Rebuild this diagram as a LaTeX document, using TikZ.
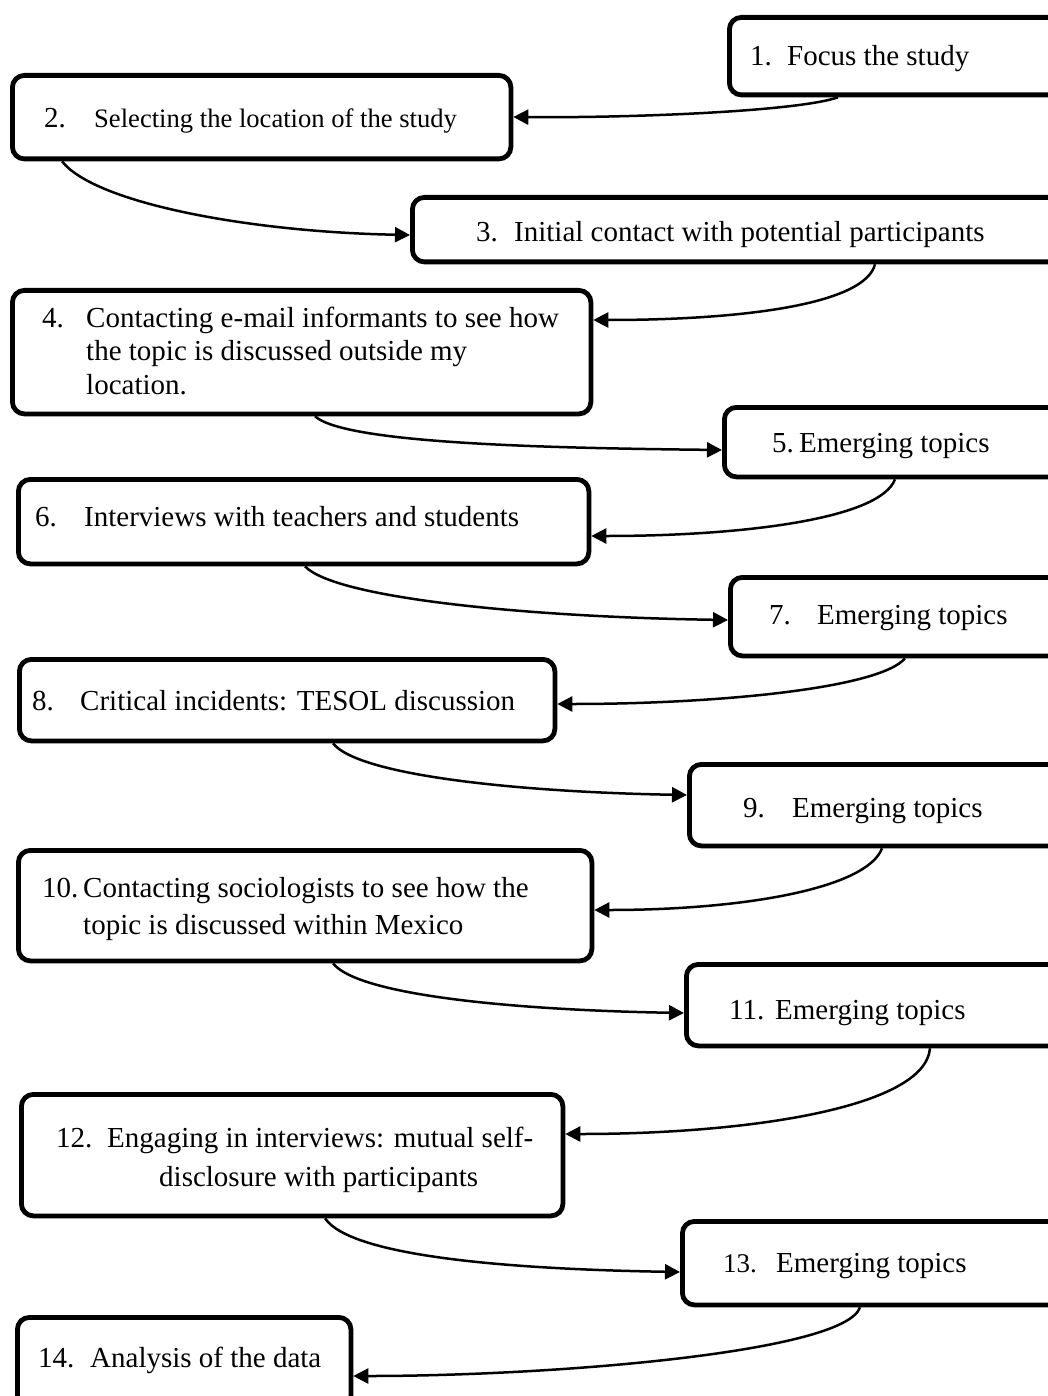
\documentclass[tikz,border=0pt]{standalone}
\usepackage{fontspec}
\setmainfont{Liberation Serif}
\usetikzlibrary{arrows.meta}
\begin{document}
\begin{tikzpicture}[x=1pt,y=-1pt,
  stage/.style={draw=black, line width=4.8pt, rounded corners=12pt, fill=white,
    anchor=north west, inner sep=0pt},
  lbl/.style={anchor=base west, inner sep=0pt, font=\fontsize{29}{35}\selectfont},
  flow/.style={line width=2.5pt, -{Triangle[length=15pt,width=15pt]}}]
\newcommand\num[2]{\makebox[#1pt][l]{#2}}
\clip (0,0) rectangle (1048,1396);

% boxes (outer top-left corner, path size = outer size - line width)
\node[stage, minimum width=338.5pt, minimum height=77.5pt]  (b1)  at (727,15)   {};
\node[stage, minimum width=498.5pt, minimum height=83.5pt]  (b2)  at (10,73)    {};
\node[stage, minimum width=655.5pt, minimum height=64.5pt]  (b3)  at (410,195)  {};
\node[stage, minimum width=578.5pt, minimum height=123.5pt] (b4)  at (10,288)   {};
\node[stage, minimum width=343.5pt, minimum height=69.5pt]  (b5)  at (722,405)  {};
\node[stage, minimum width=570.5pt, minimum height=84.5pt]  (b6)  at (16,477)   {};
\node[stage, minimum width=337.5pt, minimum height=78.5pt]  (b7)  at (728,575)  {};
\node[stage, minimum width=535.5pt, minimum height=81.5pt]  (b8)  at (17,657)   {};
\node[stage, minimum width=378.5pt, minimum height=81.5pt]  (b9)  at (687,762)  {};
\node[stage, minimum width=573.5pt, minimum height=110.5pt] (b10) at (16,848)   {};
\node[stage, minimum width=381.5pt, minimum height=81.5pt]  (b11) at (684,962)  {};
\node[stage, minimum width=541.5pt, minimum height=121.5pt] (b12) at (19,1092)  {};
\node[stage, minimum width=385.5pt, minimum height=83.5pt]  (b13) at (680,1219) {};
\node[stage, minimum width=333.5pt, minimum height=90.5pt]  (b14) at (15,1315)  {};

% labels
\node[lbl] (t1) at (750,66) {\num{37}{1.}Focus the study};
\node[lbl] (t2) at (44,128) {\num{50}{2.}{\fontsize{26.6}{32}\selectfont Selecting the location of the study}};
\node[lbl] (t3) at (476,242) {\num{38}{3.}Initial contact with potential participants};
\node[lbl] (t4a) at (42,327) {\num{44}{4.}Contacting e-mail informants to see how};
\node[lbl] (t4b) at (86,360) {the topic is discussed outside my};
\node[lbl] (t4c) at (86,394) {location.};
\node[lbl] (t5) at (772,452) {\num{27}{5.}Emerging topics};
\node[lbl] (t6) at (35,526) {\num{49}{6.}Interviews with teachers and students};
\node[lbl] (t7) at (769,624) {\num{48}{7.}Emerging topics};
\node[lbl] (t8) at (32,710) {\num{48}{8.}Critical incidents: TESOL discussion};
\node[lbl] (t9) at (743,817) {\num{49}{9.}Emerging topics};
\node[lbl] (t10a) at (42,897) {\num{41}{10.}Contacting sociologists to see how the};
\node[lbl] (t10b) at (83,934) {topic is discussed within Mexico};
\node[lbl] (t11) at (729,1019) {\num{46}{11.}Emerging topics};
\node[lbl] (t12a) at (56,1147) {\num{51}{12.}Engaging in interviews: mutual self-};
\node[lbl] (t12b) at (159,1186) {disclosure with participants};
\node[lbl] (t13) at (723,1272) {\num{53}{\fontsize{27}{32}\selectfont 13.}Emerging topics};
\node[lbl] (t14) at (38,1367) {\num{52}{14.}Analysis of the data};

% connectors
\draw[flow] ([xshift=111pt]b1.south west) .. controls +(-40,14) and +(120,1) .. (b2.east |- 0,117);
\draw[flow] ([xshift=52pt]b2.south west) .. controls +(33,42) and +(-160,-3) .. (b3.west |- 0,235);
\draw[flow] ([xshift=465pt]b3.south west) .. controls +(-10,40) and +(150,0) .. (b4.east |- 0,320);
\draw[flow] ([xshift=305pt]b4.south west) .. controls +(30,27) and +(-180,-2) .. (b5.west |- 0,450);
\draw[flow] ([xshift=173pt]b5.south west) .. controls +(-15,40) and +(150,0) .. (b6.east |- 0,536);
\draw[flow] ([xshift=289pt]b6.south west) .. controls +(30,32) and +(-200,-3) .. (b7.west |- 0,620);
\draw[flow] ([xshift=177pt]b7.south west) .. controls +(-25,30) and +(160,0) .. (b8.east |- 0,704);
\draw[flow] ([xshift=316pt]b8.south west) .. controls +(25,32) and +(-170,-3) .. (b9.west |- 0,795);
\draw[flow] ([xshift=195pt]b9.south west) .. controls +(-15,40) and +(150,0) .. (b10.east |- 0,910);
\draw[flow] ([xshift=317pt]b10.south west) .. controls +(25,32) and +(-170,-3) .. (b11.west |- 0,1013);
\draw[flow] ([xshift=246pt]b11.south west) .. controls +(-5,60) and +(180,0) .. (b12.east |- 0,1134);
\draw[flow] ([xshift=306pt]b12.south west) .. controls +(25,37) and +(-180,-3) .. (b13.west |- 0,1272);
\draw[flow] ([xshift=180pt]b13.south west) .. controls +(-15,45) and +(200,0) .. (b14.east |- 0,1376);
\end{tikzpicture}
\end{document}
